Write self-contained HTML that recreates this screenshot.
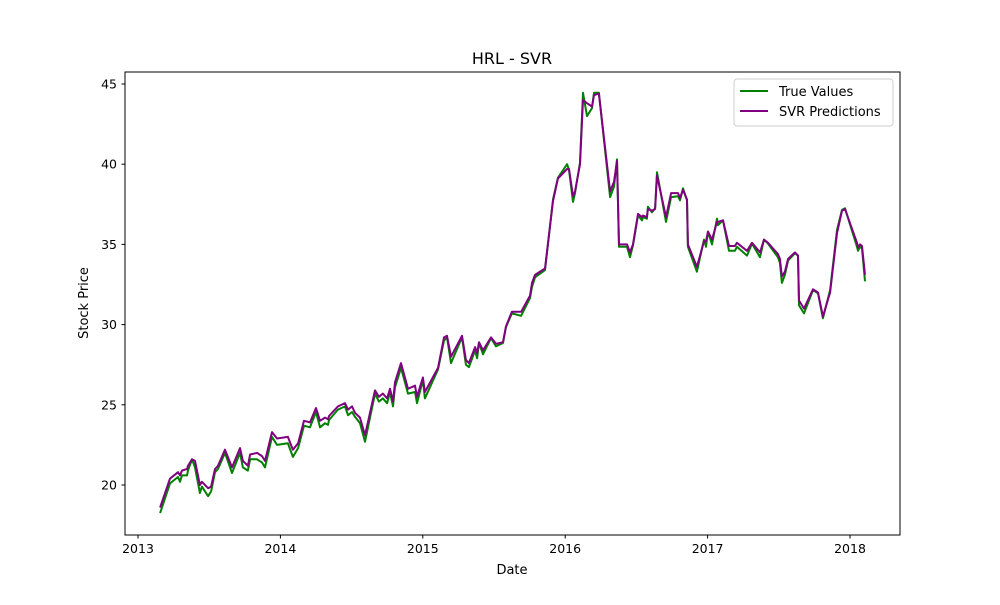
<!DOCTYPE html>
<html><head><meta charset="utf-8"><style>
body{margin:0;background:#fff;font-family:"Liberation Sans","DejaVu Sans",sans-serif}
svg text{font-family:"DejaVu Sans","Liberation Sans",sans-serif}
</style></head><body>
<svg id="chart" width="1000" height="600">
<rect x="0" y="0" width="1000" height="600" fill="#fff"/>
<text x="512" y="64" text-anchor="middle" font-size="16">HRL - SVR</text>
<g id="series"></g>
<rect x="125" y="72" width="775" height="463" fill="none" stroke="#000" stroke-width="1"/>
<g id="axes"></g>
<text x="512" y="574" text-anchor="middle" font-size="13">Date</text>
<text x="0" y="0" transform="translate(88,303) rotate(-90)" text-anchor="middle" font-size="13">Stock Price</text>
<g>
<rect x="734" y="79" width="159" height="47" rx="3" fill="#fff" stroke="#ccc"/>
<g><line x1="740" y1="91" x2="768" y2="91" stroke="green" stroke-width="2"/><text x="779" y="96" font-size="13">True Values</text></g>
<g><line x1="740" y1="111" x2="768" y2="111" stroke="purple" stroke-width="2"/><text x="779" y="116" font-size="13">SVR Predictions</text></g>
</g>
</svg>
<script>
const dates=[2013.155,2013.225,2013.281,2013.295,2013.309,2013.344,2013.351,2013.379,2013.400,2013.435,2013.449,2013.492,2013.513,2013.541,2013.562,2013.611,2013.660,2013.716,2013.737,2013.772,2013.787,2013.836,2013.871,2013.892,2013.941,2013.976,2014.053,2014.088,2014.124,2014.166,2014.208,2014.250,2014.278,2014.313,2014.334,2014.341,2014.404,2014.454,2014.475,2014.503,2014.524,2014.559,2014.594,2014.664,2014.692,2014.720,2014.749,2014.770,2014.791,2014.805,2014.847,2014.896,2014.945,2014.959,2015.001,2015.015,2015.107,2015.149,2015.170,2015.198,2015.275,2015.303,2015.324,2015.367,2015.381,2015.395,2015.423,2015.479,2015.514,2015.563,2015.584,2015.626,2015.690,2015.753,2015.767,2015.788,2015.858,2015.914,2015.949,2016.013,2016.027,2016.055,2016.069,2016.104,2016.125,2016.153,2016.188,2016.202,2016.237,2016.315,2016.343,2016.364,2016.378,2016.434,2016.455,2016.476,2016.511,2016.539,2016.546,2016.574,2016.581,2016.609,2016.631,2016.645,2016.708,2016.744,2016.792,2016.806,2016.827,2016.855,2016.862,2016.925,2016.975,2016.989,2017.003,2017.031,2017.066,2017.073,2017.108,2017.150,2017.192,2017.206,2017.277,2017.312,2017.368,2017.396,2017.424,2017.494,2017.508,2017.522,2017.543,2017.565,2017.614,2017.635,2017.642,2017.677,2017.740,2017.775,2017.810,2017.860,2017.909,2017.944,2017.965,2018.049,2018.056,2018.070,2018.084,2018.105];
const trueValues=[18.25,20.1,20.5,20.2,20.6,20.6,20.9,21.6,21.1,19.5,19.9,19.3,19.6,20.8,21.0,22.0,20.75,22.0,21.1,20.9,21.6,21.6,21.4,21.1,23.0,22.5,22.6,21.75,22.3,23.7,23.6,24.55,23.6,23.85,23.75,24.05,24.7,24.9,24.35,24.55,24.25,23.85,22.7,25.7,25.2,25.4,25.1,25.8,24.9,26.1,27.3,25.7,25.8,25.1,26.55,25.4,27.2,29.0,29.2,27.6,29.2,27.5,27.35,28.4,27.9,28.85,28.15,29.15,28.65,28.85,29.85,30.7,30.55,31.65,32.35,32.95,33.4,37.8,39.15,40.0,39.65,37.65,38.2,40.1,44.45,43.0,43.5,44.45,44.45,37.95,38.6,40.3,34.85,34.85,34.2,34.95,36.8,36.5,36.7,36.6,37.35,37.0,37.25,39.5,36.4,37.95,38.0,37.75,38.5,37.75,34.85,33.3,35.3,34.85,35.8,35.0,36.6,36.2,36.5,34.6,34.6,34.85,34.3,35.05,34.2,35.3,35.05,34.2,33.85,32.6,33.1,34.0,34.45,34.3,31.2,30.7,32.15,31.95,30.4,32.15,35.9,37.15,37.25,34.85,34.6,34.85,34.75,32.7];
const svrPredictions=[18.6,20.4,20.8,20.6,20.9,21.0,21.2,21.6,21.5,20.0,20.2,19.8,19.9,21.0,21.2,22.2,21.1,22.3,21.5,21.2,21.9,22.0,21.8,21.5,23.3,22.9,23.0,22.2,22.6,24.0,23.9,24.8,24.0,24.2,24.1,24.3,24.9,25.1,24.7,24.9,24.5,24.2,23.1,25.9,25.5,25.7,25.4,26.0,25.2,26.4,27.6,26.0,26.2,25.5,26.7,25.8,27.3,29.2,29.3,28.0,29.3,27.8,27.6,28.6,28.2,28.9,28.4,29.2,28.8,28.9,29.9,30.8,30.8,31.8,32.6,33.1,33.5,37.7,39.1,39.7,39.7,38.0,38.3,40.0,44.0,43.8,43.6,44.3,44.4,38.3,38.9,40.2,35.0,35.0,34.5,35.0,36.9,36.7,36.8,36.7,37.2,37.1,37.2,39.3,36.7,38.2,38.2,37.9,38.4,37.8,35.0,33.6,35.2,35.2,35.8,35.3,36.4,36.4,36.5,34.9,34.9,35.1,34.6,35.1,34.5,35.3,35.1,34.4,34.1,33.0,33.3,34.1,34.5,34.3,31.5,31.0,32.2,32.0,30.5,32.0,35.7,37.1,37.2,35.1,34.8,35.0,34.9,33.1];
const yTicks=[20,25,30,35,40,45];
const xTicks=[2013,2014,2015,2016,2017,2018];
const NS='http://www.w3.org/2000/svg';
function xScale(t){return 138+(t-2013)*142.4;}
function yScale(v){return 485-(v-20)*16.04;}
const axes=document.getElementById('axes');
yTicks.forEach(v=>{
  const y=yScale(v);
  const l=document.createElementNS(NS,'line');
  l.setAttribute('x1',121.5);l.setAttribute('x2',125);l.setAttribute('y1',y);l.setAttribute('y2',y);l.setAttribute('stroke','#000');
  
  
  axes.appendChild(l);
  const t=document.createElementNS(NS,'text');
  t.setAttribute('x',117);t.setAttribute('y',y+4.5);t.setAttribute('text-anchor','end');t.setAttribute('font-size','12.5');
  t.textContent=v;
  
  
  axes.appendChild(t);
});
xTicks.forEach(v=>{
  const x=xScale(v);
  const l=document.createElementNS(NS,'line');
  l.setAttribute('x1',x);l.setAttribute('x2',x);l.setAttribute('y1',535);l.setAttribute('y2',538.5);l.setAttribute('stroke','#000');
  
  
  axes.appendChild(l);
  const t=document.createElementNS(NS,'text');
  t.setAttribute('x',x);t.setAttribute('y',553);t.setAttribute('text-anchor','middle');t.setAttribute('font-size','12.5');
  t.textContent=v;
  
  
  axes.appendChild(t);
});
const series=document.getElementById('series');
function line(vals,color,name){
  const n=Math.min(vals.length,dates.length);
  const pts=[];
  for(let i=0;i<n;i++)pts.push(xScale(dates[i]).toFixed(1)+','+yScale(vals[i]).toFixed(1));
  const p=document.createElementNS(NS,'polyline');
  p.setAttribute('points',pts.join(' '));
  p.setAttribute('fill','none');p.setAttribute('stroke',color);p.setAttribute('stroke-width','2');p.setAttribute('stroke-linejoin','round');
  
  
  series.appendChild(p);
}
line(trueValues,'green','true-values-line');
line(svrPredictions,'purple','svr-predictions-line');
</script>
</body></html>
